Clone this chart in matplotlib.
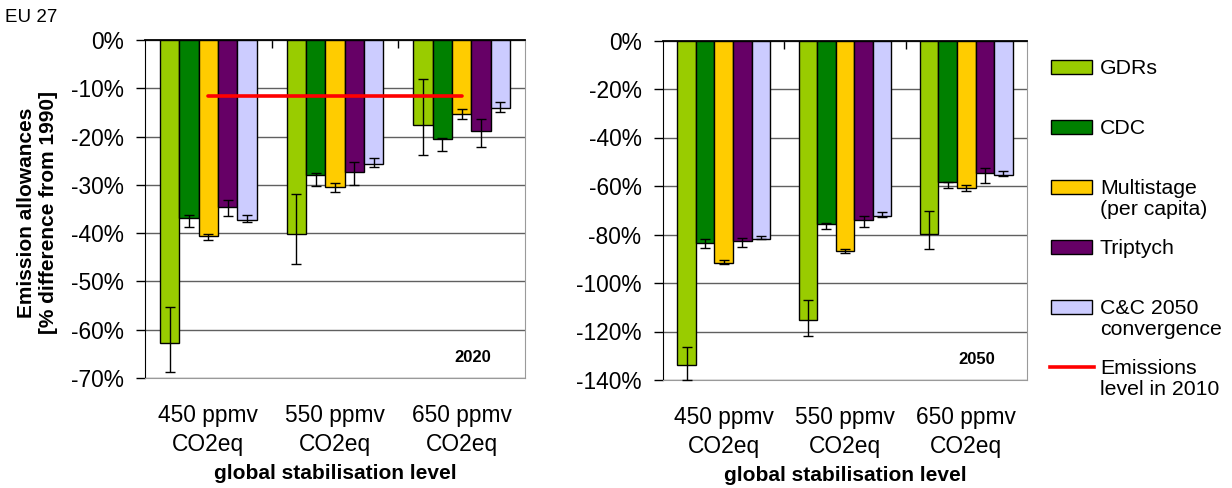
import numpy as np
import matplotlib.pyplot as plt
from matplotlib.patches import Rectangle
from matplotlib.lines import Line2D
from matplotlib.ticker import MultipleLocator, FuncFormatter

plt.rcParams['font.family'] = ['Liberation Sans', 'DejaVu Sans']

GROUPS = ["450 ppmv\nCO2eq", "550 ppmv\nCO2eq", "650 ppmv\nCO2eq"]
APPROACHES = ["GDRs", "CDC", "Multistage\n(per capita)", "Triptych", "C&C 2050\nconvergence"]
COLORS = ["#99CC00", "#008000", "#FFCC00", "#660066", "#CCCCFF"]
LINE_LABEL = "Emissions\nlevel in 2010"

# % difference from 1990, one row per approach, columns 450 / 550 / 650 ppmv
VAL_2020 = [[-62.7, -40.1, -17.5],
            [-36.8, -28.0, -20.5],
            [-40.6, -30.4, -15.3],
            [-34.6, -27.4, -18.8],
            [-37.3, -25.7, -14.1]]
HIGH_2020 = [[-55.2, -31.8, -8.0],
             [-36.2, -27.5, -20.3],
             [-40.1, -29.6, -14.2],
             [-33.2, -25.3, -16.4],
             [-36.2, -24.4, -12.8]]
LOW_2020 = [[-68.7, -46.4, -23.9],
            [-38.7, -30.2, -23.0],
            [-41.5, -31.5, -16.4],
            [-36.4, -30.0, -22.2],
            [-37.7, -26.3, -15.0]]

VAL_2050 = [[-133.8, -115.3, -79.9],
            [-83.4, -75.7, -58.5],
            [-91.6, -86.7, -60.8],
            [-82.8, -74.0, -54.8],
            [-81.7, -72.4, -55.3]]
HIGH_2050 = [[-126.3, -106.9, -70.2],
             [-81.8, -75.1, -58.2],
             [-90.5, -86.1, -59.7],
             [-81.3, -72.2, -52.4],
             [-80.5, -70.7, -53.7]]
LOW_2050 = [[-140.0, -121.9, -86.1],
            [-85.4, -77.9, -60.8],
            [-92.2, -87.8, -62.1],
            [-85.2, -76.8, -58.6],
            [-81.9, -72.8, -55.8]]

EMISSIONS_2010 = -11.5


def draw_panel(ax, vals, lows, highs, ymin, ystep, year):
    x = np.arange(len(GROUPS))
    width = 0.153
    for i, color in enumerate(COLORS):
        v = np.array(vals[i])
        lo = np.array(lows[i])
        hi = np.array(highs[i])
        pos = x + (i - 2) * width
        ax.bar(pos, v, width, color=color, edgecolor="black", linewidth=1, zorder=3)
        ax.errorbar(pos, v, yerr=[v - lo, hi - v], fmt="none", ecolor="black",
                    elinewidth=1, capsize=3.3, capthick=1, zorder=4, clip_on=False)

    ax.set_xlim(-0.5, 2.5)
    ax.set_ylim(ymin, 0)
    ax.yaxis.set_major_locator(MultipleLocator(ystep))
    ax.yaxis.set_major_formatter(FuncFormatter(lambda v, p: f"{int(round(v))}%"))
    ax.grid(axis="y", color="#606060", linewidth=1, zorder=0)
    ax.set_axisbelow(True)

    ax.spines["top"].set_color("black")
    ax.spines["top"].set_linewidth(1.3)
    ax.spines["left"].set_color("black")
    ax.spines["bottom"].set_color("#9a9a9a")
    ax.spines["right"].set_color("#9a9a9a")

    ax.tick_params(axis="y", direction="out", length=6.5, width=1, labelsize=16.4, pad=9)
    ax.set_xticks(x, GROUPS)
    ax.tick_params(axis="x", which="major", length=0, pad=19, labelsize=16.4)
    for lbl in ax.get_xticklabels():
        lbl.set_linespacing(1.3)
    ax.set_xticks([0.5, 1.5], minor=True)
    ax.tick_params(axis="x", which="minor", bottom=False, top=True,
                   direction="in", length=6, width=1)

    ax.set_xlabel("global stabilisation level", fontweight="bold", fontsize=15)
    ax.xaxis.set_label_coords(0.5, -0.253)
    ax.text(0.862, 0.06, year, transform=ax.transAxes, ha="center", va="center",
            fontweight="bold", fontsize=12)


fig = plt.figure(figsize=(12.32, 4.88), dpi=100)
W, H = 1232, 488
ax1 = fig.add_axes([145 / W, 1 - 378 / H, 380 / W, 338 / H])
ax2 = fig.add_axes([663 / W, 1 - 380 / H, 364 / W, 339.5 / H])

draw_panel(ax1, VAL_2020, LOW_2020, HIGH_2020, -70, 10, "2020")
draw_panel(ax2, VAL_2050, LOW_2050, HIGH_2050, -140, 20, "2050")

ax1.plot(np.arange(len(GROUPS)), [EMISSIONS_2010] * len(GROUPS), color="red",
         linewidth=2.6, zorder=5, solid_capstyle="round")

ax1.set_ylabel("Emission allowances\n[% difference from 1990]", fontweight="bold", fontsize=15)
ax1.yaxis.set_label_coords(-0.229, 0.49)

fig.text(5 / W, 1 - 18 / H, "EU 27", fontsize=13.5, va="center")

# legend, one row every 60 px, handle aligned with the first text line
for i, (name, color) in enumerate(zip(APPROACHES + [LINE_LABEL], COLORS + ["red"])):
    yc = 67 + 60 * i
    if i < len(APPROACHES):
        fig.add_artist(Rectangle((1051 / W, 1 - (yc + 7) / H), 41 / W, 14 / H,
                                 transform=fig.transFigure, facecolor=color,
                                 edgecolor="black", linewidth=1))
    else:
        fig.add_artist(Line2D([1050 / W, 1094 / W], [1 - yc / H, 1 - yc / H],
                              transform=fig.transFigure, color=color, linewidth=2.6))
    fig.text(1100 / W, 1 - (yc - 8) / H, name, fontsize=15.3, va="top", ha="left",
             linespacing=1.15)

fig.savefig("out.png", dpi=100)
